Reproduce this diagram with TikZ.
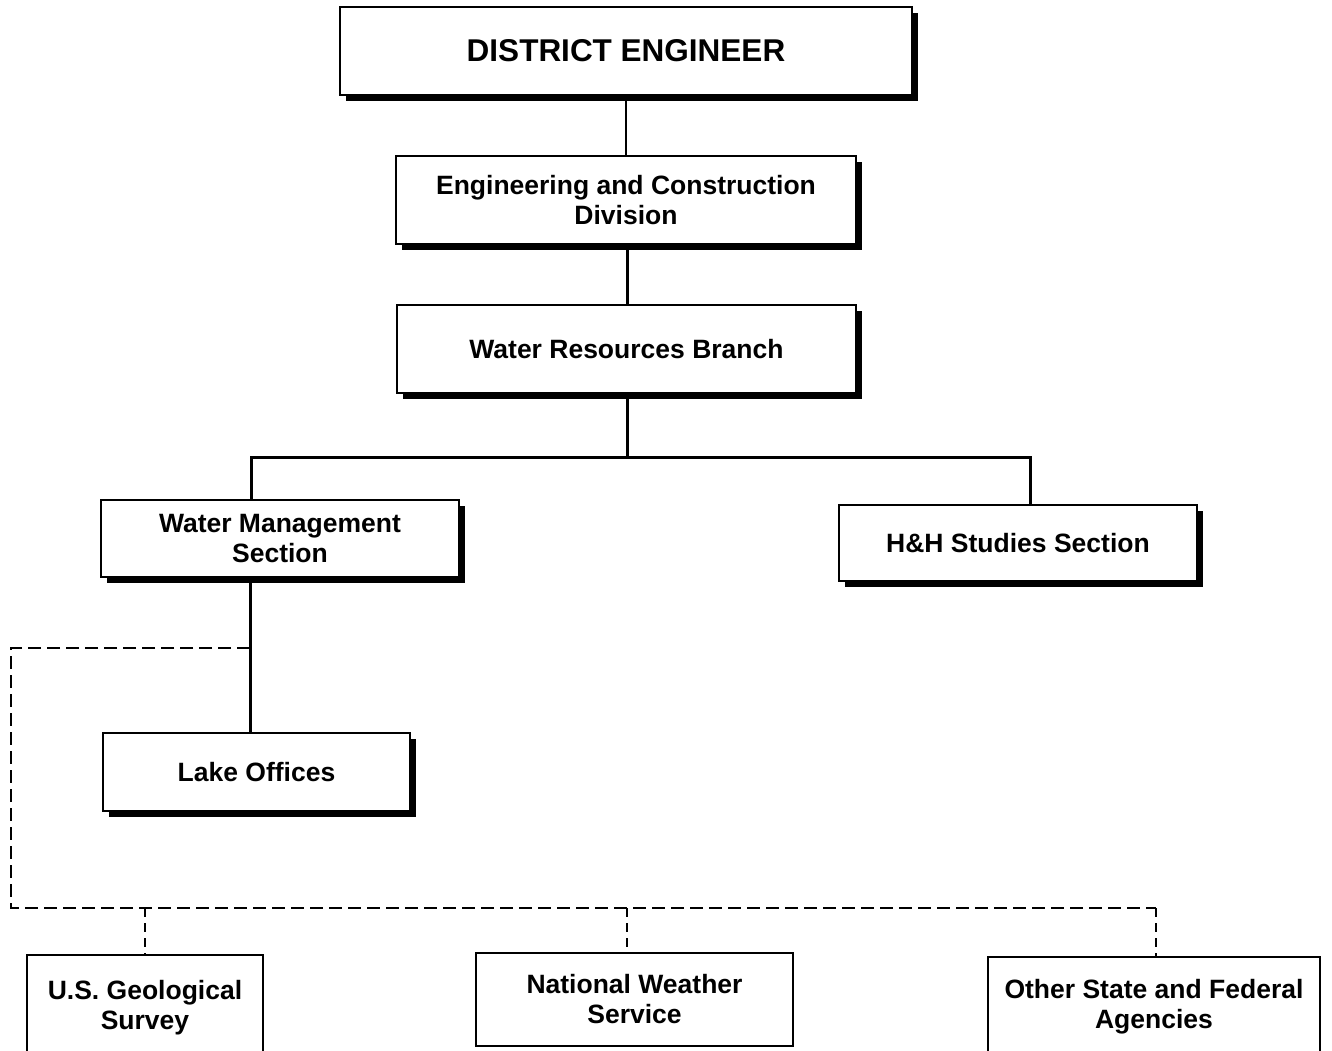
\documentclass[tikz,border=0pt]{standalone}
\usepackage{fontspec}
\setmainfont{Liberation Sans}
\usetikzlibrary{shadows}
\begin{document}
\begin{tikzpicture}[x=1pt,y=-1pt,
  box/.style={draw=black,line width=1.7pt,fill=white,inner sep=0pt,align=center,
    font=\bfseries\fontsize{26.5}{30}\selectfont},
  shbox/.style={box,drop shadow={shadow xshift=6pt,shadow yshift=-6pt,opacity=1,fill=black}},
  plainbox/.style={box,line width=2.2pt},
  conn/.style={line width=3pt},
  thinconn/.style={line width=1.7pt},
  dashline/.style={line width=2pt,dash pattern=on 13pt off 6pt},
  dashdrop/.style={line width=2.2pt,dash pattern=on 9pt off 6pt}]
\useasboundingbox (0,0) rectangle (1332,1051);
\fill[white] (0,0) rectangle (1332,1051);
% nodes
\node[shbox,minimum width=572pt,minimum height=88pt,font=\bfseries\fontsize{31.5}{36}\selectfont] (de) at (626,51) {DISTRICT ENGINEER};
\node[shbox,minimum width=460pt,minimum height=88pt] (ec) at (626,200) {Engineering and Construction\\Division};
\node[shbox,minimum width=459pt,minimum height=88pt] (wrb) at (626.5,349) {Water Resources Branch};
\node[shbox,minimum width=358pt,minimum height=77pt] (wms) at (280,538.5) {Water Management\\Section};
\node[shbox,minimum width=358pt,minimum height=76pt] (hh) at (1018,543) {H\&H Studies Section};
\node[shbox,minimum width=307pt,minimum height=78pt] (lake) at (256.5,772) {Lake Offices};
\node[plainbox,minimum width=236pt,minimum height=106pt] (usgs) at (145,1008) {U.S. Geological\\Survey};
\node[plainbox,minimum width=317pt,minimum height=93pt] (nws) at (634.5,999.5) {National Weather\\Service};
\node[plainbox,minimum width=332pt,minimum height=100pt] (other) at (1154,1007) {Other State and Federal\\Agencies};
% junction coordinates
\coordinate (jl) at (251,457);
\coordinate (jr) at (1030,457);
\coordinate (jc) at (627,457);
\coordinate (k) at (250,648);
\coordinate (dl) at (11,648);
\coordinate (db) at (11,908);
\coordinate (d1) at (145,908);
\coordinate (d2) at (627,908);
\coordinate (d3) at (1156,908);
% connectors
\draw[thinconn] (de.south -| ec.north) -- (ec.north);
\draw[conn] (ec.south -| jc) -- (wrb.north -| jc);
\draw[conn] (wrb.south -| jc) -- (jc);
\draw[conn] (jl |- wms.north) -- (jl) -- (jr) -- (jr |- hh.north);
\draw[conn] (k |- wms.south) -- (k |- lake.north);
\draw[dashline] (k) -- (dl) -- (db) -- (d3);
\draw[dashdrop] (d1) -- (d1 |- usgs.north);
\draw[dashdrop] (d2) -- (d2 |- nws.north);
\draw[dashdrop] (d3) -- (d3 |- other.north);
\end{tikzpicture}
\end{document}
